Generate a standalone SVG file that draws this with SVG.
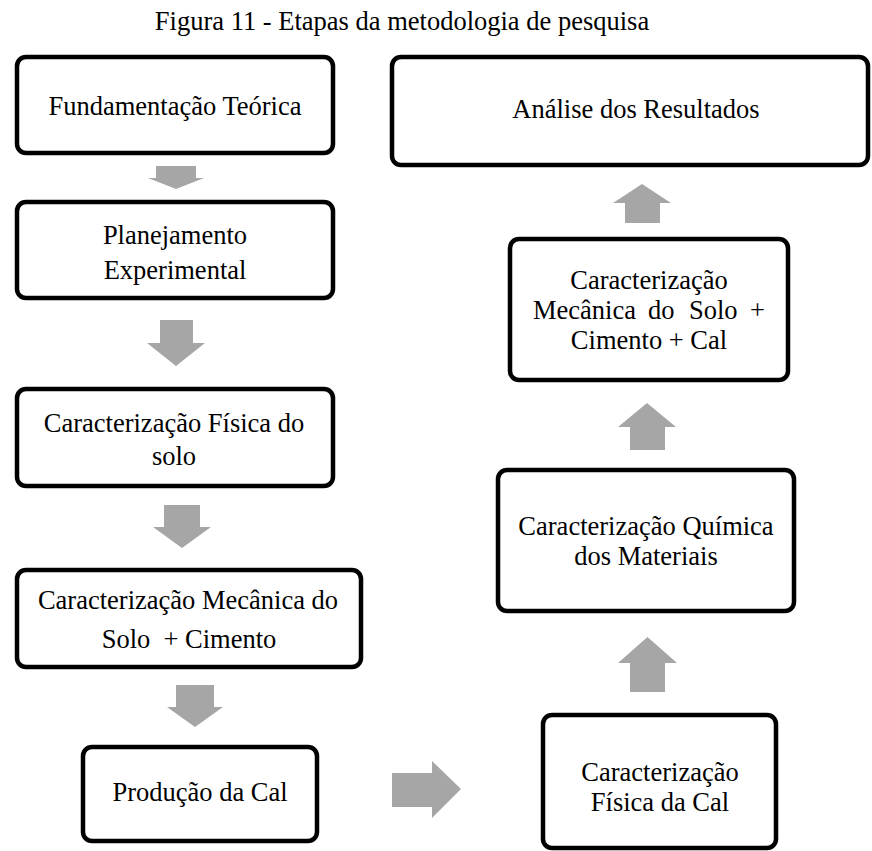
<svg xmlns="http://www.w3.org/2000/svg" width="872" height="851" viewBox="0 0 872 851">
<style>
.box{fill:#fff;stroke:#000;stroke-width:4.5}
.arr{fill:#a6a6a6}
text{font-family:"Liberation Serif","Times New Roman",serif;font-size:26.5px;fill:#000}
.c{text-anchor:middle}
.pre{white-space:pre}
</style>
<rect width="872" height="851" fill="#fff"/>
<text class="c" x="402" y="30">Figura 11 - Etapas da metodologia de pesquisa</text>
<g id="connectors">
<polygon class="arr" points="156,166 196,166 196,178 204,178 176,189 148,178 156,178"/>
<polygon class="arr" points="160,320 193,320 193,343 205,343 176,366 147,343 160,343"/>
<polygon class="arr" points="164,505 200,505 200,527 211,527 182,548 153,527 164,527"/>
<polygon class="arr" points="176,685 214,685 214,707 223,707 195,727 167,707 176,707"/>
<polygon class="arr" points="392,773 432,773 432,761 461,789 432,818 432,807 392,807"/>
<polygon class="arr" points="630,692 665,692 665,663 677,663 647.5,637 618,663 630,663"/>
<polygon class="arr" points="630,450 665,450 665,427 676,427 647,403 618,427 630,427"/>
<polygon class="arr" points="625,223 660,223 660,203 671,203 642,184 613,203 625,203"/>
</g>
<g id="n1"><rect class="box" x="17" y="57" width="316" height="96" rx="9"/>
<text class="c" x="175" y="115">Fundamentação Teórica</text></g>
<g id="n2"><rect class="box" x="17" y="202" width="316" height="96" rx="9"/>
<text class="c" x="175" y="244">Planejamento</text>
<text class="c" x="175" y="279">Experimental</text></g>
<g id="n3"><rect class="box" x="17" y="389" width="316" height="97" rx="9"/>
<text class="c" x="174" y="432">Caracterização Física do</text>
<text class="c" x="174" y="465">solo</text></g>
<g id="n4"><rect class="box" x="17" y="570" width="344" height="97" rx="9"/>
<text class="c" x="188" y="609">Caracterização Mecânica do</text>
<text class="c pre" x="189" y="648">Solo  + Cimento</text></g>
<g id="n5"><rect class="box" x="83" y="747" width="234" height="94" rx="9"/>
<text class="c" x="200" y="801">Produção da Cal</text></g>
<g id="n6"><rect class="box" x="543" y="715" width="233" height="133" rx="9"/>
<text class="c" x="660" y="781">Caracterização</text>
<text class="c" x="660" y="811">Física da Cal</text></g>
<g id="n7"><rect class="box" x="498" y="470" width="296" height="141" rx="9"/>
<text class="c" x="646" y="535">Caracterização Química</text>
<text class="c" x="646" y="565">dos Materiais</text></g>
<g id="n8"><rect class="box" x="510" y="239" width="278" height="141" rx="9"/>
<text class="c" x="649" y="289">Caracterização</text>
<text y="319"><tspan x="533">Mecânica</tspan><tspan x="648">do</tspan><tspan x="689">Solo</tspan><tspan x="750">+</tspan></text>
<text class="c" x="649" y="349">Cimento + Cal</text></g>
<g id="n9"><rect class="box" x="392" y="57" width="476" height="108" rx="9"/>
<text class="c" x="636" y="118">Análise dos Resultados</text></g>
</svg>
